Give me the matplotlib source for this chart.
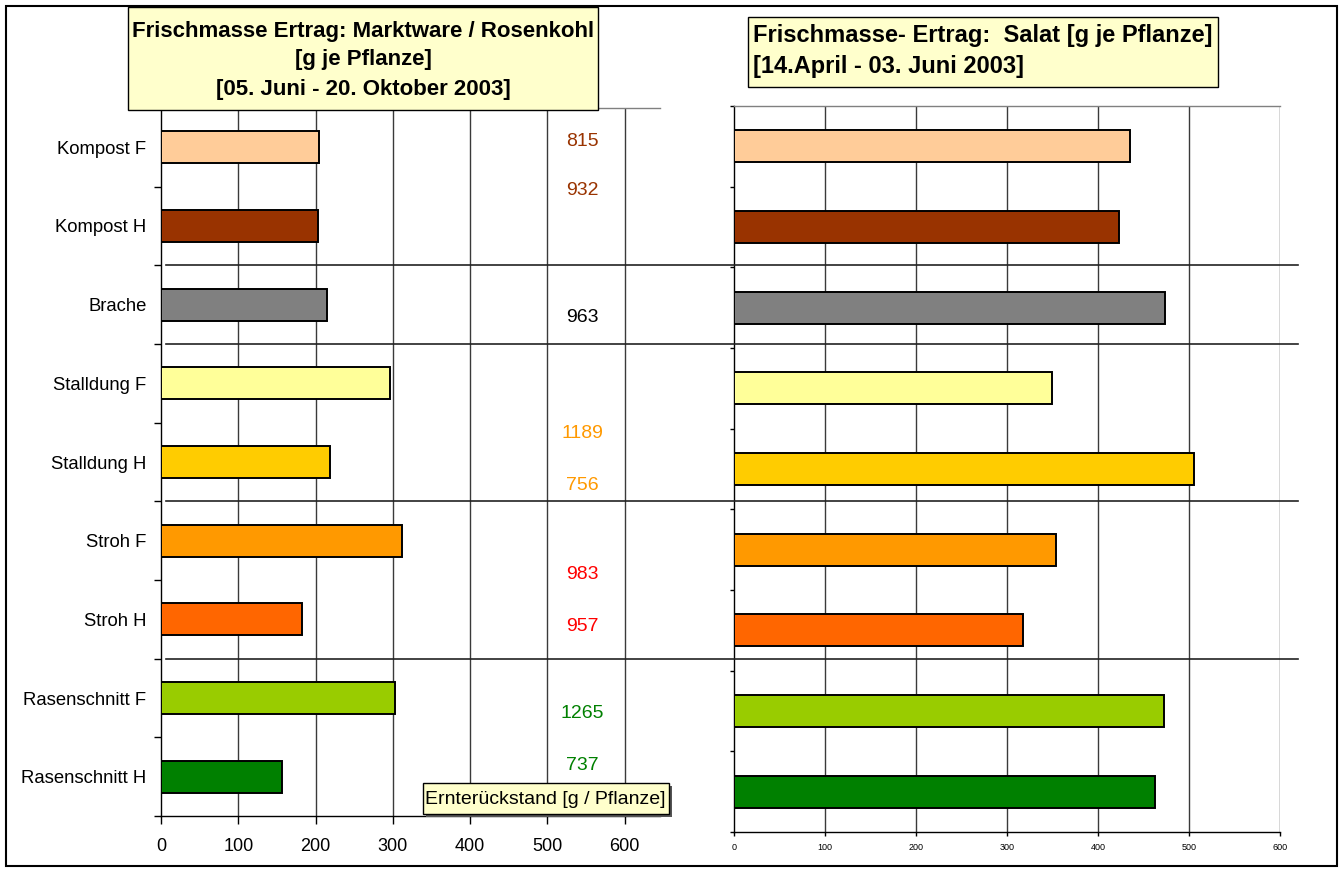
import matplotlib
matplotlib.use("Agg")
import matplotlib.pyplot as plt
from matplotlib.patches import Rectangle
from matplotlib.lines import Line2D
import matplotlib.transforms as mtransforms
import numpy as np

plt.rcParams['font.family'] = ['Liberation Sans', 'DejaVu Sans']

# ---------------- data ----------------
categories = ["Kompost F", "Kompost H", "Brache", "Stalldung F", "Stalldung H",
              "Stroh F", "Stroh H", "Rasenschnitt F", "Rasenschnitt H"]
colors = ["#FFCC99", "#993300", "#808080", "#FFFF99", "#FFCC00",
          "#FF9900", "#FF6600", "#99CC00", "#008000"]
rosenkohl = [205, 203, 215, 296, 219, 312, 182, 303, 157]
salat = [435, 423, 474, 349, 506, 354, 318, 473, 463]
residue = [815, 932, 963, 1189, 756, 983, 957, 1265, 737]
residue_colors = ["#993300", "#993300", "#000000", "#FF9900", "#FF9900",
                  "#FF0000", "#FF0000", "#008000", "#008000"]
xticks = [0, 100, 200, 300, 400, 500, 600]
title_left = "Frischmasse Ertrag: Marktware / Rosenkohl\n[g je Pflanze]\n[05. Juni - 20. Oktober 2003]"
title_right = "Frischmasse- Ertrag:  Salat [g je Pflanze]\n[14.April - 03. Juni 2003]"
residue_label = "Ernterückstand [g / Pflanze]"
group_boundaries = [1.5, 2.5, 4.5, 6.5]

# ---------------- layout ----------------
W, H = 1341, 872
fig = plt.figure(figsize=(W / 100, H / 100), dpi=100)

def fx(px):
    return px / W

def fy(py):
    return 1 - py / H

# left axes: x 161 -> 659.5 (0..645), y 108 -> 816
axL = fig.add_axes([fx(161), fy(816), fx(498.5), (816 - 108) / H])
# right axes: x 734 -> 1280 (0..600), y 106 -> 832
axR = fig.add_axes([fx(734), fy(832), fx(546), (832 - 106) / H])

y = np.arange(len(categories))
grid_col = "#3a3a3a"

for ax, vals, xmax, bh in [(axL, rosenkohl, 645, 0.41), (axR, salat, 600, 0.40)]:
    ax.set_xlim(0, xmax)
    ax.set_ylim(len(categories) - 0.5, -0.5)
    for xv in xticks[1:]:
        ax.axvline(xv, color=grid_col, lw=1.0, zorder=1)
    ax.barh(y, vals, height=bh, color=colors, edgecolor="black", linewidth=1.4, zorder=3)
    ax.set_xticks(xticks)
    ax.set_yticks(y)
    ax.set_yticks(np.arange(len(categories) + 1) - 0.5, minor=True)
    ax.tick_params(axis='y', which='major', length=0)
    ax.tick_params(axis='y', which='minor', length=5, width=1, color="black", direction='out')
    ax.spines['right'].set_visible(False)
    ax.spines['top'].set_color("#808080")
    ax.spines['left'].set_color("black")
    ax.spines['bottom'].set_color("black")
    for s in ax.spines.values():
        s.set_linewidth(1.0)
    ax.set_facecolor("white")

axL.set_yticklabels(categories, fontsize=13.3)
axL.tick_params(axis='y', which='major', pad=10.5)
axL.tick_params(axis='x', length=6, width=1, labelsize=13, pad=10)

axR.set_yticklabels([])
axR.tick_params(axis='y', which='minor', length=3)
axR.tick_params(axis='x', length=3, width=1, labelsize=6.5, pad=5)

# residue annotations (left chart), placed within each row
residue_offsets = [-0.08, -0.445, 0.157, 0.644, 0.305, 0.436, 0.097, 0.203, -0.136]
for i, (val, col, off) in enumerate(zip(residue, residue_colors, residue_offsets)):
    axL.text(545, i + off, str(val), color=col, fontsize=14,
             ha='center', va='center', zorder=5)

# group separator lines across both charts
trans = mtransforms.blended_transform_factory(fig.transFigure, axL.transData)
for b in group_boundaries:
    fig.add_artist(Line2D([fx(166), fx(1298)], [b, b], transform=trans,
                          color="#222222", lw=1.2, zorder=2))

# boxes
def box(x0, y0, x1, y1, z=10, sh=2):
    fig.add_artist(Rectangle((fx(x0 + sh), fy(y1 + sh)), fx(x1 - x0), (y1 - y0) / H,
                             transform=fig.transFigure, facecolor="#555555",
                             edgecolor="none", zorder=z))
    fig.add_artist(Rectangle((fx(x0), fy(y1)), fx(x1 - x0), (y1 - y0) / H,
                             transform=fig.transFigure, facecolor="#FFFFCC",
                             edgecolor="black", lw=1.0, zorder=z + 0.1))

box(128, 7, 598, 110, sh=1)
fig.text(fx(363), fy(60), title_left, ha='center', va='center', fontsize=16,
         fontweight='bold', linespacing=1.5, zorder=12)

box(748, 17, 1218, 87, sh=1)
fig.text(fx(753), fy(51), title_right, ha='left', va='center', fontsize=17,
         fontweight='bold', linespacing=1.44, zorder=12)

box(423, 783, 669, 814, sh=3)
fig.text(fx(545), fy(799), residue_label, ha='center', va='center', fontsize=14, zorder=12)

# outer border
fig.add_artist(Rectangle((fx(6), fy(866)), fx(1331), 860 / H, transform=fig.transFigure,
                         facecolor="none", edgecolor="black", lw=1.5, zorder=20))

fig.savefig("out.png", dpi=100, facecolor="white")
